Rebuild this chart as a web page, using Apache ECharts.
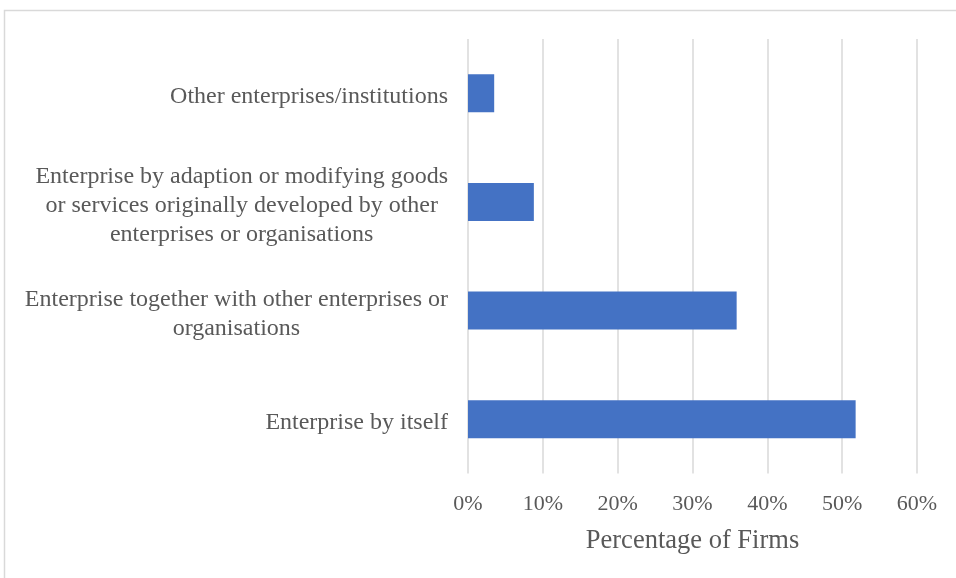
<!DOCTYPE html>
<html>
<head>
<meta charset="utf-8">
<script src="https://cdn.jsdelivr.net/npm/echarts@6/dist/echarts.min.js"></script>
<style>
  html, body { margin: 0; padding: 0; background: #fff; }
  #chart { width: 956px; height: 578px; }
</style>
</head>
<body>
<div id="chart"></div>
<script>
// Categories listed bottom to top (first entry sits at the bottom of the axis)
const categories = [
  'Enterprise by itself',
  'Enterprise together with other enterprises or\norganisations',
  'Enterprise by adaption or modifying goods\nor services originally developed by other\nenterprises or organisations',
  'Other enterprises/institutions'
];
// Share of firms, in percent
const shareOfFirms = [51.8, 35.9, 8.8, 3.5];
const axisTitle = 'Percentage of Firms';

const FONT = '"Liberation Serif", "Times New Roman", serif';
const TEXT_COLOR = '#595959';

const chart = echarts.init(document.getElementById('chart'), null, { renderer: 'canvas' });

chart.setOption({
  backgroundColor: '#ffffff',
  animation: false,
  graphic: [{
    type: 'rect',
    shape: { x: 4.5, y: 10.5, width: 1000, height: 1000 },
    style: { fill: 'none', stroke: '#d9d9d9', lineWidth: 1.5 },
    silent: true,
    z: -10
  }],
  grid: { left: 468, right: 39, top: 39, bottom: 104.5, containLabel: false },
  xAxis: {
    type: 'value',
    min: 0,
    max: 60,
    interval: 10,
    axisLine: { show: false },
    axisTick: { show: false },
    splitLine: { show: true, lineStyle: { color: '#d9d9d9', width: 1.5 } },
    axisLabel: {
      formatter: '{value}%',
      margin: 20,
      fontFamily: FONT,
      fontSize: 22,
      color: TEXT_COLOR
    },
    name: axisTitle,
    nameLocation: 'middle',
    nameGap: 54,
    nameTextStyle: { fontFamily: FONT, fontSize: 26.5, color: TEXT_COLOR }
  },
  yAxis: {
    type: 'category',
    data: categories,
    axisLine: { show: false },
    axisTick: { show: false },
    axisLabel: {
      margin: 20,
      align: 'right',
      fontFamily: FONT,
      fontSize: 24,
      lineHeight: 29,
      color: TEXT_COLOR,
      padding: [7, 0, 0, 0],
      // centre each line within the label block
      formatter: function (v) {
        return v.split('\n').map(function (s) { return '{c|' + s + '}'; }).join('\n');
      },
      rich: {
        c: { align: 'center', fontFamily: FONT, fontSize: 24, lineHeight: 29, color: TEXT_COLOR }
      }
    }
  },
  series: [{
    type: 'bar',
    data: shareOfFirms,
    barWidth: 38,
    itemStyle: { color: '#4472C4' }
  }]
});
</script>
</body>
</html>
